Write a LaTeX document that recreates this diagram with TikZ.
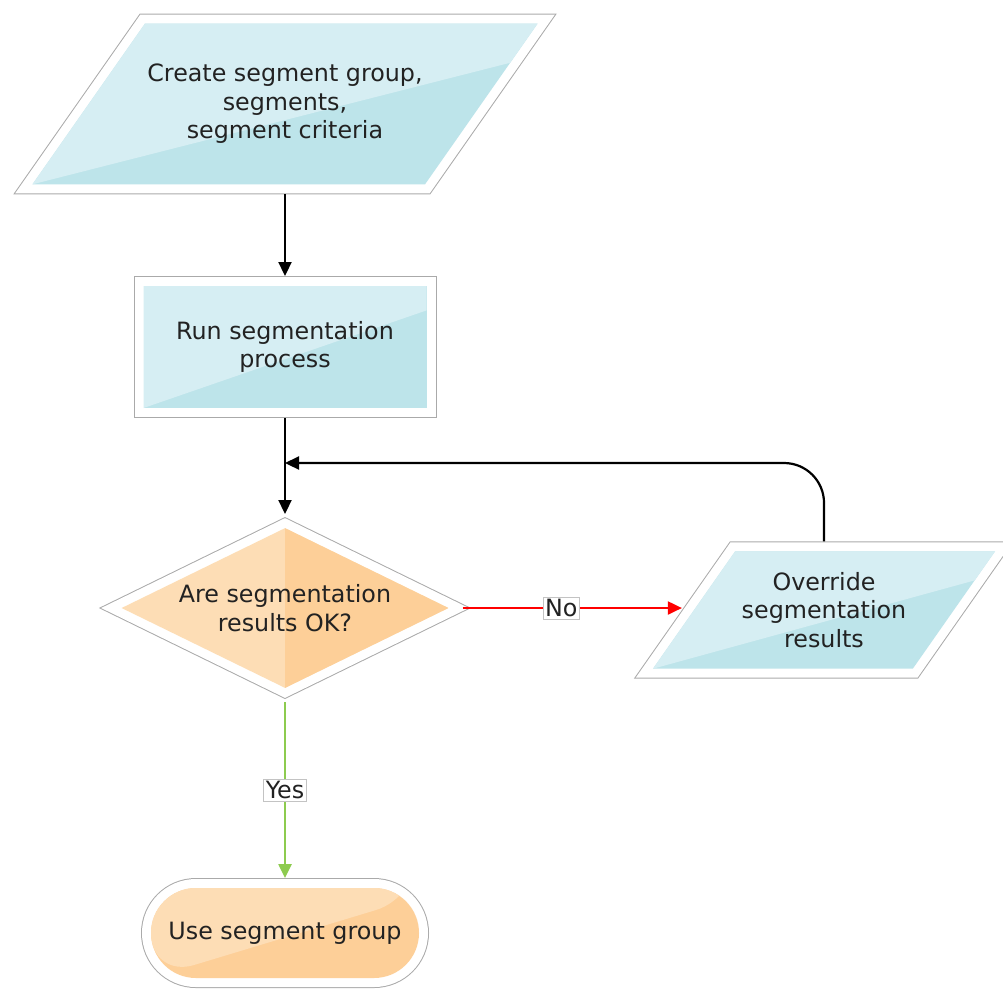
\documentclass[tikz,border=0pt]{standalone}
\usepackage{fontspec}
\setmainfont{DejaVu Sans}
\usetikzlibrary{shapes.geometric,arrows.meta,calc}
\definecolor{bluelight}{RGB}{214,238,243}
\definecolor{bluedark}{RGB}{189,228,234}
\definecolor{orangelight}{RGB}{253,221,181}
\definecolor{orangedark}{RGB}{253,207,152}
\definecolor{framegray}{RGB}{170,170,170}
\definecolor{yesgreen}{RGB}{141,203,79}
\definecolor{textgray}{RGB}{34,34,34}
\begin{document}
\begin{tikzpicture}[x=1pt,y=-1pt]
\tikzstyle{every node}+=[inner sep=0pt, align=center, text=textgray, font=\fontsize{23.8}{28.5}\selectfont]
\tikzstyle{framed}=[preaction={draw=framegray, line width=20pt}, preaction={draw=white, line width=18pt}, outer sep=10pt]
\tikzstyle{bluefill}=[fill=bluedark, path picture={\fill[bluelight] (path picture bounding box.south west) -- (path picture bounding box.north west) -- (path picture bounding box.north east) -- ($(path picture bounding box.north east)!0.2!(path picture bounding box.south east)$) -- cycle;}]
\tikzstyle{orangefill}=[fill=orangedark, path picture={\fill[orangelight] (path picture bounding box.south west) -- (path picture bounding box.north west) -- (path picture bounding box.north east) -- ($(path picture bounding box.north east)!0.1!(path picture bounding box.south east)$) -- cycle;}]
\tikzstyle{io}=[framed, bluefill, trapezium, trapezium left angle=55, trapezium right angle=125, trapezium stretches body]
\tikzstyle{process}=[framed, bluefill, rectangle]
\tikzstyle{decision}=[framed, diamond, aspect=2, fill=orangelight, path picture={\fill[orangedark] (path picture bounding box.north) rectangle (path picture bounding box.south east);}]
\tikzstyle{terminal}=[framed, orangefill, rectangle, rounded corners=45pt]
\tikzstyle{flowline}=[line width=2.2pt, black, -{Triangle[length=14pt,width=13pt]}]
\tikzstyle{noline}=[line width=2pt, red, -{Triangle[length=14pt,width=13pt]}]
\tikzstyle{yesline}=[line width=2.5pt, yesgreen, -{Triangle[length=14pt,width=13pt]}]
\tikzstyle{labelbox}=[fill=white, draw=framegray!70, line width=0.6pt, inner sep=2pt]
\useasboundingbox (0,0) rectangle (1003,989);
\node[io, minimum width=505pt, inner ysep=40.5pt] (create) at (285,104) {Create segment group,\\segments,\\segment criteria};
\node[process, minimum width=283pt, minimum height=122pt] (run) at (285,347) {Run segmentation\\process};
\node[decision, minimum width=335pt, minimum height=168pt] (check) at (285,608) {Are segmentation\\results OK?};
\node[io, minimum width=342pt, inner ysep=21pt] (override) at (824,610) {Override\\segmentation\\results};
\node[terminal, minimum width=268pt, minimum height=90pt] (use) at (285,933) {Use segment group};
\coordinate (join) at (285,463);
\draw[flowline] (create) -- (run);
\draw[flowline] (run) -- (check);
\draw[noline] (check.east) -- node[labelbox, pos=0.45] {No} (check.east -| override.west);
\draw[yesline] (check) -- node[labelbox] {Yes} (use);
\draw[flowline, rounded corners=40pt] (override.north) |- (join);
\end{tikzpicture}
\end{document}
